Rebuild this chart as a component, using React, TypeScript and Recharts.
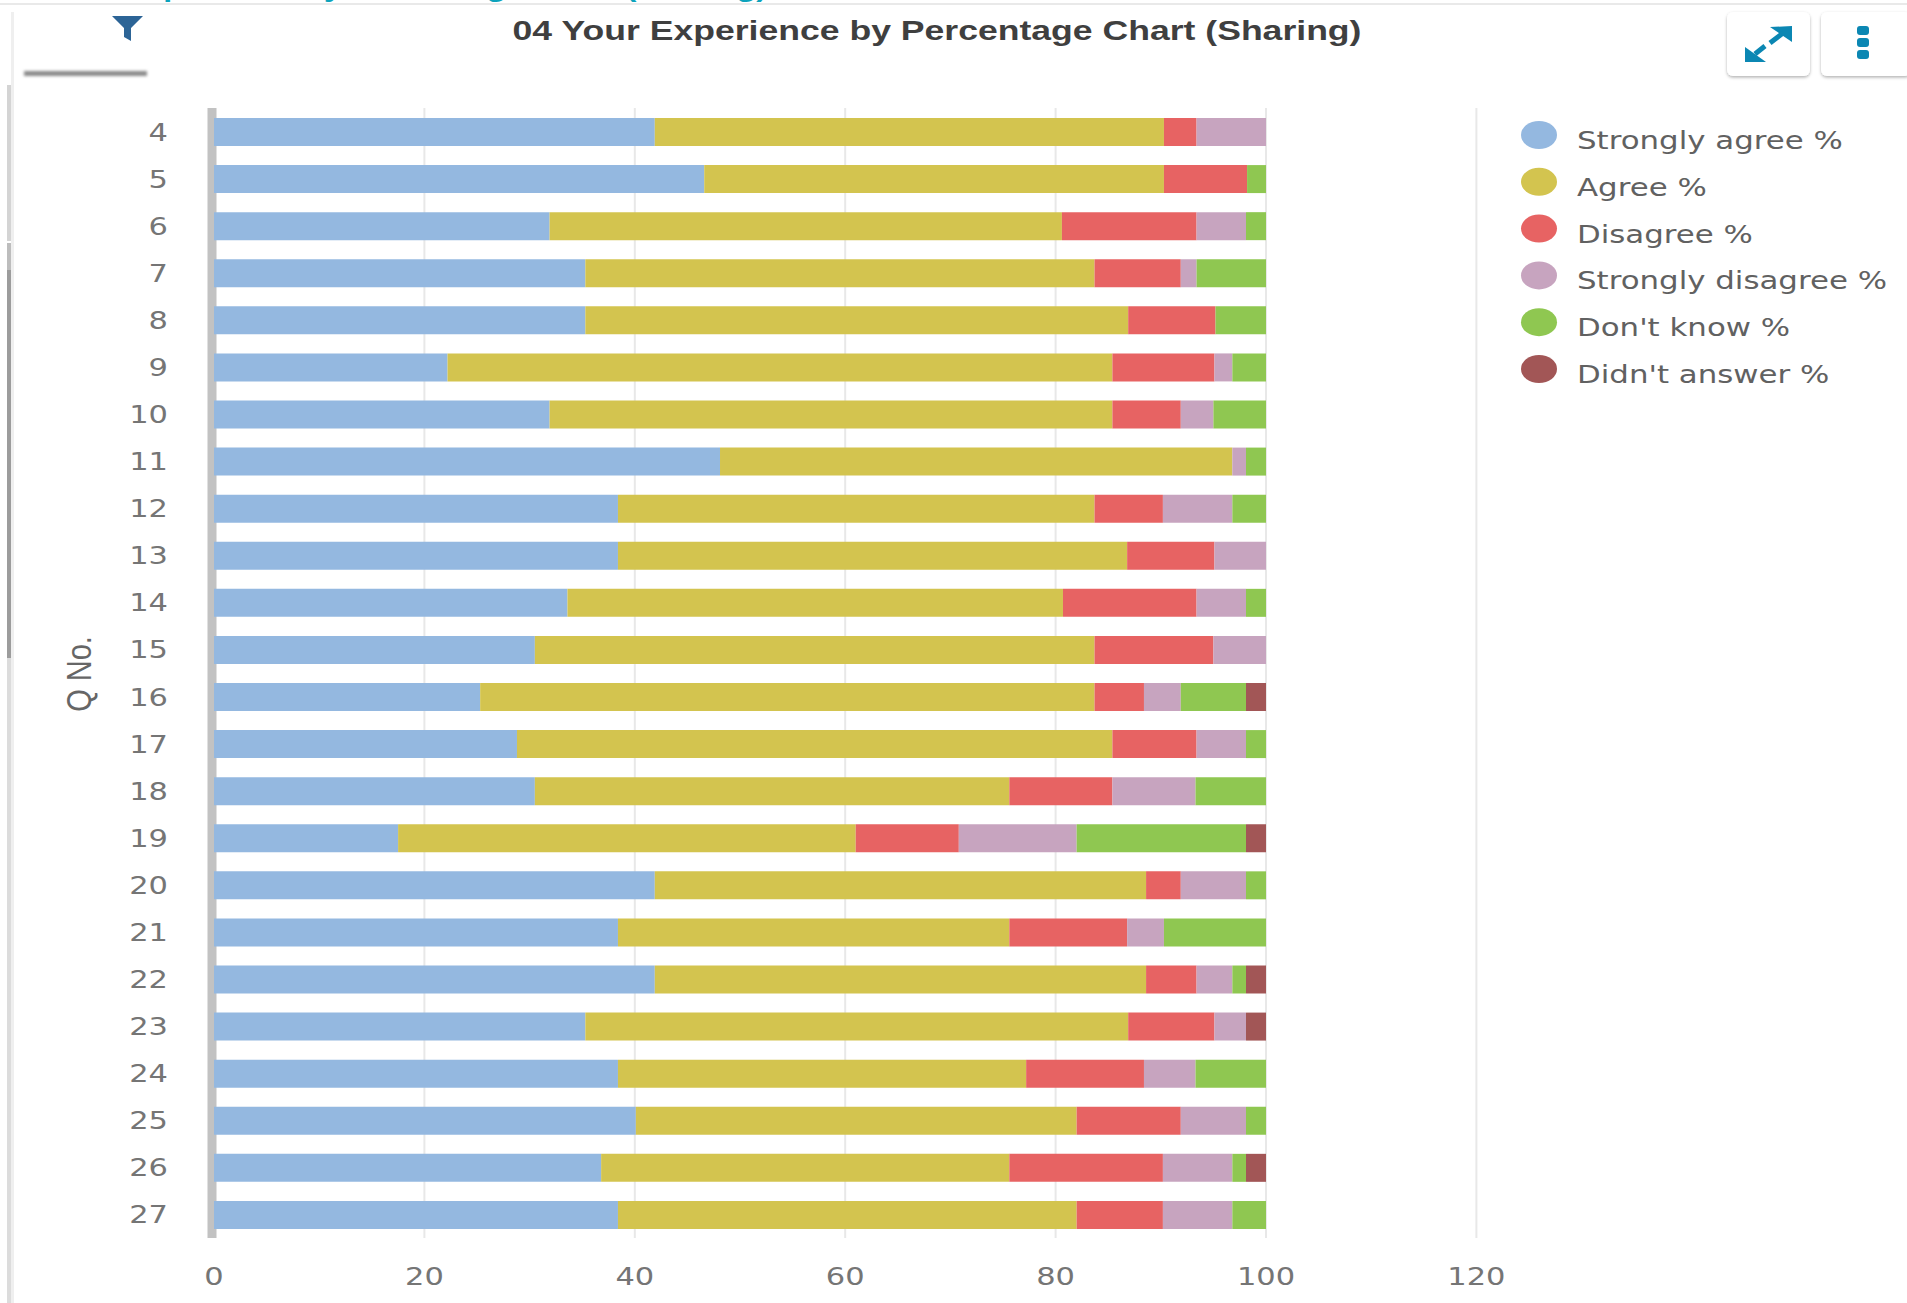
import React from "react";
import { BarChart, Bar, XAxis, YAxis, CartesianGrid, Legend, Label } from "recharts";

const questions = ["4", "5", "6", "7", "8", "9", "10", "11", "12", "13", "14", "15", "16", "17", "18", "19", "20", "21", "22", "23", "24", "25", "26", "27"];
const stronglyAgree = [41.9, 46.6, 31.9, 35.3, 35.3, 22.2, 31.9, 48.1, 38.4, 38.4, 33.6, 30.5, 25.3, 28.8, 30.5, 17.5, 41.9, 38.4, 41.9, 35.3, 38.4, 40.1, 36.8, 38.4];
const agree = [48.4, 43.7, 48.7, 48.4, 51.6, 63.2, 53.5, 48.7, 45.3, 48.4, 47.1, 53.2, 58.4, 56.6, 45.1, 43.5, 46.7, 37.2, 46.7, 51.6, 38.8, 41.9, 38.8, 43.6];
const disagree = [3.1, 7.9, 12.8, 8.2, 8.3, 9.7, 6.5, 0, 6.5, 8.3, 12.7, 11.3, 4.7, 8, 9.8, 9.8, 3.3, 11.2, 4.8, 8.2, 11.2, 9.9, 14.6, 8.2];
const stronglyDisagree = [6.6, 0, 4.7, 1.5, 0, 1.7, 3.1, 1.3, 6.6, 4.9, 4.7, 5, 3.5, 4.7, 7.9, 11.2, 6.2, 3.5, 3.4, 3, 4.9, 6.2, 6.6, 6.6];
const dontKnow = [0, 1.8, 1.9, 6.6, 4.8, 3.2, 5, 1.9, 3.2, 0, 1.9, 0, 6.2, 1.9, 6.7, 16.1, 1.9, 9.7, 1.3, 0, 6.7, 1.9, 1.3, 3.2];
const didntAnswer = [0, 0, 0, 0, 0, 0, 0, 0, 0, 0, 0, 0, 1.9, 0, 0, 1.9, 0, 0, 1.9, 1.9, 0, 0, 1.9, 0];
const xTicks = [0, 20, 40, 60, 80, 100, 120];

const seriesList = [
  { key: "Strongly agree %", values: stronglyAgree, color: "#94B8E0" },
  { key: "Agree %", values: agree, color: "#D3C44F" },
  { key: "Disagree %", values: disagree, color: "#E76363" },
  { key: "Strongly disagree %", values: stronglyDisagree, color: "#C7A4BF" },
  { key: "Don't know %", values: dontKnow, color: "#8FC751" },
  { key: "Didn't answer %", values: didntAnswer, color: "#A25656" },
];

const chartData = questions.map((q, i) => {
  const row: Record<string, string | number> = { q };
  seriesList.forEach((s) => {
    row[s.key] = s.values[i];
  });
  return row;
});

const TICK_FONT = "'DejaVu Sans', sans-serif";
const TEXT_GREY = "#757575";
// the source screenshot is stretched sideways, text has to follow
const STRETCH = 1.22;

const YTick = ({ x, y, payload }: any) => (
  <g transform={`translate(${x},${y}) scale(${STRETCH},1)`}>
    <text textAnchor="end" dy={9} fontFamily={TICK_FONT} fontSize={25} fill={TEXT_GREY}>
      {payload.value}
    </text>
  </g>
);

const XTick = ({ x, y, payload }: any) => (
  <g transform={`translate(${x},${y}) scale(${STRETCH},1)`}>
    <text textAnchor="middle" dy={9} fontFamily={TICK_FONT} fontSize={25} fill={TEXT_GREY}>
      {payload.value}
    </text>
  </g>
);

const QLabel = () => (
  <g transform={`translate(91,674) scale(${STRETCH},1) rotate(-90)`}>
    <text textAnchor="middle" fontFamily="'Liberation Sans', sans-serif" fontSize={29} fill="#666">
      Q No.
    </text>
  </g>
);

const LegendList = ({ payload }: any) => (
  <svg width={400} height={290} style={{ display: "block" }}>
    {(payload || []).map((item: any, i: number) => (
      <g key={item.value} transform={`translate(0,${i * 46.8})`}>
        <ellipse cx={39} cy={25} rx={18} ry={14} fill={item.color} />
        <g transform={`translate(77,39) scale(1.285,1)`}>
          <text fontFamily={TICK_FONT} fontSize={24} fill="#616161">
            {item.value}
          </text>
        </g>
      </g>
    ))}
  </svg>
);

const PageChrome = () => (
  <svg width={1907} height={1303} style={{ position: "absolute", left: 0, top: 0 }}>
    <defs>
      <filter id="soft" x="-20%" y="-20%" width="140%" height="140%">
        <feDropShadow dx="0" dy="1.5" stdDeviation="1.5" floodColor="#000" floodOpacity="0.3" />
      </filter>
      <filter id="bar" x="-5%" y="-100%" width="110%" height="300%">
        <feGaussianBlur stdDeviation="1.5" />
      </filter>
    </defs>

    {/* cropped page heading above the panel */}
    <g transform="translate(0,-3) scale(1.34,1)">
      <text fontFamily="'Liberation Sans', sans-serif" fontWeight="bold" fontSize={24} fill="#0CA3BC">
        04 Your Experience by Percentage Chart (Sharing)
      </text>
    </g>
    <rect x={0} y={3} width={1907} height={2} fill="#E9E9E9" />

    {/* left scroll track */}
    <rect x={11} y={12} width={3} height={1291} fill="#EFEFEF" />
    <rect x={7} y={85} width={4} height={156} fill="#D4D4D4" />
    <rect x={7} y={243} width={4} height={27} fill="#BDBDBD" />
    <rect x={7} y={270} width={4} height={388} fill="#9C9C9C" />
    <rect x={7} y={658} width={4} height={645} fill="#DCDCDC" />

    {/* filter button */}
    <rect x={24} y={71} width={123} height={5} fill="#8A8A8A" filter="url(#bar)" />
    <path d="M112 16 L143 16 L131 28 L131 41 L124 37 L124 28 Z" fill="#2C6496" />

    {/* expand button */}
    <rect x={1727} y={12} width={83} height={64} rx={6} fill="#fff" filter="url(#soft)" />
    <path d="M1792 26 L1792 42 L1770 27 Z" fill="#0B87B3" />
    <path d="M1745 62 L1745 47 L1766 62 Z" fill="#0B87B3" />
    <path d="M1783 33 L1770 43 M1755 54 L1765 46" stroke="#0B87B3" strokeWidth={5} />

    {/* menu button */}
    <rect x={1821} y={12} width={90} height={64} rx={6} fill="#fff" filter="url(#soft)" />
    <rect x={1857} y={26} width={12} height={9} rx={3} fill="#0B87B3" />
    <rect x={1857} y={38} width={12} height={9} rx={3} fill="#0B87B3" />
    <rect x={1857} y={50} width={12} height={9} rx={3} fill="#0B87B3" />

    <g transform="translate(937,40) scale(1.318,1)">
      <text textAnchor="middle" fontFamily="'Liberation Sans', sans-serif" fontWeight="bold" fontSize={27} fill="#3F3F3F">
        04 Your Experience by Percentage Chart (Sharing)
      </text>
    </g>
  </svg>
);

export default function App() {
  return (
    <div style={{ position: "absolute", left: 0, top: 0, width: 1907, height: 1303, overflow: "hidden", background: "#fff" }}>
      <PageChrome />
      <div style={{ position: "absolute", left: 0, top: 0 }}>
        <BarChart
          layout="vertical"
          width={1907}
          height={1303}
          data={chartData}
          margin={{ top: 108, right: 430.6, bottom: 25, left: 154 }}
          barSize={28}
        >
          <CartesianGrid horizontal={false} stroke="#E8E8E8" strokeWidth={2} />
          <XAxis
            type="number"
            domain={[0, 120]}
            ticks={xTicks}
            height={40}
            axisLine={false}
            tickLine={false}
            tickSize={0}
            tickMargin={38}
            tick={<XTick />}
          />
          <YAxis
            type="category"
            dataKey="q"
            width={60}
            interval={0}
            tickLine={false}
            tickSize={0}
            tickMargin={46}
            zIndex={100}
            axisLine={{ stroke: "#C2C2C2", strokeWidth: 9, transform: "translate(-2,0)" }}
            tick={<YTick />}
          >
            <Label content={<QLabel />} />
          </YAxis>
          <Legend
            layout="vertical"
            align="center"
            verticalAlign="middle"
            itemSorter={null}
            wrapperStyle={{ left: 1500, top: 110, width: 400, right: "auto", bottom: "auto" }}
            content={<LegendList />}
          />
          {seriesList.map((s) => (
            <Bar key={s.key} dataKey={s.key} stackId="a" fill={s.color} isAnimationActive={false} />
          ))}
        </BarChart>
      </div>
    </div>
  );
}
